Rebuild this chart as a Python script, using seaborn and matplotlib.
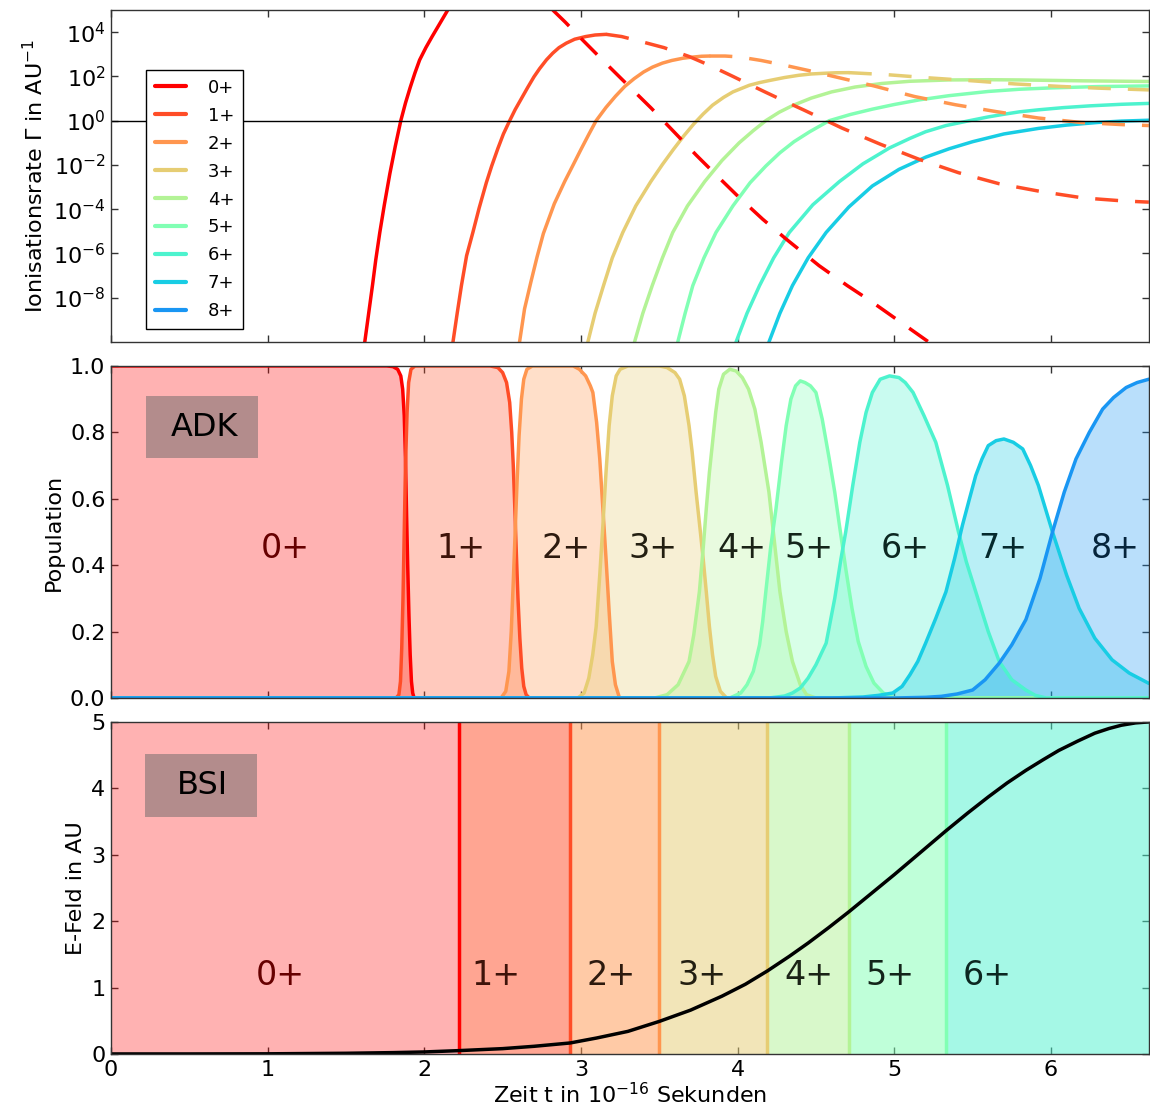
import numpy as np
import matplotlib
matplotlib.use("Agg")
import matplotlib.pyplot as plt
from matplotlib.lines import Line2D
from matplotlib.patches import Rectangle
from matplotlib.ticker import NullLocator
import seaborn as sns

# charge states
ions = ["0+", "1+", "2+", "3+", "4+", "5+", "6+", "7+", "8+"]

# --- top panel: ionisation rates (time, log10 of rate) ---
rate_t_0 = [1.62, 1.645, 1.67, 1.69, 1.716, 1.745, 1.78, 1.815, 1.85, 1.88, 1.91, 1.94, 1.97, 2.01, 2.05, 2.10, 2.15]
rate_log_0 = [-10, -8.7, -7.4, -6.3, -5.05, -3.8, -2.4, -1.15, 0.0, 0.8, 1.5, 2.15, 2.74, 3.3, 3.8, 4.4, 5.0]
rate_t_1 = [2.183, 2.21, 2.237, 2.27, 2.31, 2.35, 2.396, 2.43, 2.47, 2.505, 2.545, 2.58, 2.62, 2.66, 2.70,
            2.736, 2.78, 2.82, 2.86, 2.906, 2.96, 3.03, 3.09, 3.161]
rate_log_1 = [-10, -8.7, -7.45, -6.1, -5.05, -3.95, -2.8, -2.05, -1.25, -0.6, 0.0, 0.5, 1.0, 1.5, 1.98,
              2.35, 2.75, 3.05, 3.3, 3.5, 3.68, 3.8, 3.87, 3.9]
rate_t_2 = [2.608, 2.64, 2.68, 2.72, 2.76, 2.83, 2.896, 2.95, 3.0, 3.05, 3.097, 3.16, 3.22, 3.28, 3.34, 3.40,
            3.457, 3.52, 3.58, 3.65, 3.71, 3.77, 3.82]
rate_log_2 = [-10, -8.5, -7.3, -6.15, -5.1, -3.75, -2.75, -2.0, -1.3, -0.62, 0.0, 0.6, 1.1, 1.55, 1.9, 2.2,
              2.42, 2.6, 2.72, 2.82, 2.87, 2.91, 2.92]
rate_t_3 = [3.044, 3.09, 3.144, 3.2, 3.267, 3.35, 3.446, 3.52, 3.59, 3.655, 3.72, 3.78, 3.84, 3.91, 3.97,
            4.075, 4.14, 4.2, 4.3, 4.39, 4.47, 4.55, 4.63, 4.71]
rate_log_3 = [-10, -8.7, -7.45, -6.2, -5.05, -3.85, -2.75, -1.98, -1.3, -0.7, -0.15, 0.3, 0.7, 1.05, 1.3,
              1.6, 1.72, 1.81, 1.95, 2.05, 2.11, 2.14, 2.165, 2.17]
rate_t_4 = [3.342, 3.395, 3.455, 3.52, 3.586, 3.68, 3.79, 3.9, 4.01, 4.1, 4.18, 4.265, 4.35, 4.47, 4.6,
            4.75, 4.92, 5.1, 5.35, 5.6, 5.8, 6.2, 6.625]
rate_log_4 = [-10, -8.7, -7.45, -6.2, -5.05, -3.85, -2.75, -1.8, -1.0, -0.45, 0.0, 0.38, 0.68, 1.02, 1.3,
              1.52, 1.68, 1.78, 1.84, 1.85, 1.84, 1.8, 1.77]
rate_t_5 = [3.618, 3.665, 3.714, 3.785, 3.862, 3.97, 4.08, 4.18, 4.27, 4.36, 4.46, 4.585, 4.72, 4.86, 5.0,
            5.16, 5.35, 5.6, 5.8, 6.0, 6.3, 6.625]
rate_log_5 = [-10, -8.7, -7.45, -6.2, -5.05, -3.85, -2.8, -2.05, -1.45, -0.95, -0.5, 0.0, 0.28, 0.52, 0.73,
              0.94, 1.13, 1.32, 1.42, 1.48, 1.54, 1.57]
rate_t_6 = [3.99, 4.06, 4.14, 4.23, 4.33, 4.48, 4.65, 4.8, 4.97, 5.1, 5.2, 5.33, 5.48, 5.6, 5.7, 5.8, 5.92,
            6.08, 6.25, 6.45, 6.625]
rate_log_6 = [-10, -8.7, -7.45, -6.2, -5.05, -3.8, -2.75, -1.95, -1.23, -0.8, -0.5, -0.22, 0.0, 0.17, 0.29,
              0.4, 0.49, 0.59, 0.67, 0.74, 0.78]
rate_t_7 = [4.2, 4.27, 4.35, 4.45, 4.565, 4.71, 4.86, 5.03, 5.2, 5.35, 5.5, 5.7, 5.92, 6.1, 6.3, 6.45, 6.625]
rate_log_7 = [-10, -8.7, -7.45, -6.2, -5.05, -3.9, -2.95, -2.2, -1.65, -1.27, -0.95, -0.6, -0.35, -0.2,
              -0.08, -0.02, 0.02]

# dashed continuations
dash_t_0 = [2.82, 2.9, 3.0, 3.15, 3.31, 3.448, 3.6, 3.735, 3.87, 4.01, 4.16, 4.31, 4.52, 4.7, 4.85, 5.03, 5.22]
dash_log_0 = [5.0, 4.45, 3.72, 2.65, 1.53, 0.57, -0.55, -1.55, -2.5, -3.47, -4.45, -5.35, -6.55, -7.45,
              -8.15, -9.05, -10]
dash_t_1 = [3.161, 3.26, 3.37, 3.53, 3.69, 3.83, 3.97, 4.08, 4.18, 4.3, 4.42, 4.665, 4.91, 5.16, 5.41,
            5.67, 5.935, 6.205, 6.47, 6.625]
dash_log_1 = [3.9, 3.8, 3.6, 3.3, 2.9, 2.47, 2.0, 1.62, 1.28, 0.88, 0.49, -0.33, -1.06, -1.75, -2.35,
              -2.85, -3.2, -3.49, -3.63, -3.68]
dash_t_2 = [3.82, 3.92, 4.01, 4.15, 4.29, 4.45, 4.6, 4.87, 5.13, 5.39, 5.65, 5.92, 6.19, 6.46, 6.625]
dash_log_2 = [2.92, 2.92, 2.88, 2.72, 2.52, 2.27, 2.02, 1.57, 1.09, 0.72, 0.41, 0.12, -0.08, -0.18, -0.22]
dash_t_3 = [4.71, 4.95, 5.23, 5.5, 5.77, 6.05, 6.3, 6.625]
dash_log_3 = [2.17, 2.08, 1.93, 1.8, 1.66, 1.55, 1.47, 1.39]

# --- middle panel: ADK populations ---
pop_t_0 = [0, 1.76, 1.80, 1.83, 1.85, 1.862, 1.872, 1.88, 1.887, 1.894, 1.902, 1.91, 1.918, 1.926, 1.935, 6.625]
pop_v_0 = [1, 1, 0.998, 0.99, 0.97, 0.93, 0.85, 0.72, 0.55, 0.4, 0.25, 0.13, 0.05, 0.015, 0, 0]
pop_t_1 = [0, 1.82, 1.838, 1.848, 1.856, 1.864, 1.872, 1.88, 1.89, 1.90, 1.915, 1.94, 2.42, 2.47, 2.50,
           2.525, 2.545, 2.558, 2.568, 2.578, 2.588, 2.598, 2.61, 2.622, 2.635, 2.65, 2.67, 6.625]
pop_v_1 = [0, 0, 0.01, 0.05, 0.15, 0.3, 0.5, 0.7, 0.86, 0.95, 0.99, 1.0, 1.0, 0.995, 0.98,
           0.95, 0.89, 0.8, 0.7, 0.57, 0.43, 0.3, 0.18, 0.09, 0.035, 0.01, 0, 0]
pop_t_2 = [0, 2.49, 2.52, 2.54, 2.555, 2.568, 2.58, 2.592, 2.605, 2.62, 2.635, 2.655, 2.69, 2.95, 2.99,
           3.03, 3.06, 3.076, 3.10, 3.12, 3.14, 3.16, 3.18, 3.20, 3.22, 3.246, 6.625]
pop_v_2 = [0, 0, 0.02, 0.08, 0.2, 0.35, 0.5, 0.65, 0.79, 0.9, 0.96, 0.99, 1.0, 1.0, 0.99,
           0.97, 0.94, 0.92, 0.83, 0.72, 0.57, 0.42, 0.26, 0.11, 0.04, 0, 0]
pop_t_3 = [0, 2.98, 3.02, 3.05, 3.075, 3.097, 3.12, 3.14, 3.16, 3.18, 3.20, 3.225, 3.25, 3.30, 3.50, 3.55,
           3.60, 3.63, 3.66, 3.69, 3.71, 3.735, 3.76, 3.78, 3.80, 3.82, 3.84, 3.86, 3.89, 3.93, 6.625]
pop_v_3 = [0, 0, 0.015, 0.06, 0.13, 0.215, 0.37, 0.52, 0.68, 0.82, 0.91, 0.97, 0.99, 1.0, 1.0, 0.995,
           0.98, 0.96, 0.91, 0.82, 0.74, 0.62, 0.51, 0.42, 0.32, 0.215, 0.13, 0.065, 0.02, 0, 0]
pop_t_4 = [0, 3.47, 3.55, 3.62, 3.69, 3.72, 3.756, 3.78, 3.80, 3.82, 3.84, 3.86, 3.88, 3.91, 3.95, 3.99,
           4.03, 4.07, 4.11, 4.15, 4.18, 4.2, 4.235, 4.27, 4.31, 4.35, 4.40, 4.44, 4.5, 6.625]
pop_v_4 = [0, 0, 0.01, 0.04, 0.11, 0.19, 0.32, 0.45, 0.57, 0.68, 0.77, 0.86, 0.93, 0.975, 0.99, 0.985,
           0.965, 0.93, 0.87, 0.77, 0.68, 0.62, 0.47, 0.32, 0.2, 0.11, 0.04, 0.01, 0, 0]
pop_t_5 = [0, 3.95, 4.02, 4.06, 4.10, 4.14, 4.16, 4.18, 4.21, 4.245, 4.28, 4.31, 4.34, 4.37, 4.40, 4.43,
           4.465, 4.5, 4.54, 4.585, 4.62, 4.65, 4.69, 4.73, 4.77, 4.82, 4.87, 4.93, 5.0, 6.625]
pop_v_5 = [0, 0, 0.015, 0.04, 0.08, 0.16, 0.23, 0.32, 0.45, 0.57, 0.71, 0.82, 0.9, 0.94, 0.955, 0.95,
           0.94, 0.92, 0.84, 0.72, 0.62, 0.52, 0.39, 0.27, 0.17, 0.095, 0.045, 0.015, 0, 0]
pop_t_6 = [0, 4.2, 4.3, 4.35, 4.40, 4.45, 4.5, 4.565, 4.62, 4.66, 4.69, 4.735, 4.78, 4.82, 4.86, 4.91,
           4.97, 5.03, 5.07, 5.12, 5.19, 5.265, 5.34, 5.41, 5.46, 5.52, 5.6, 5.67, 5.75, 5.84, 5.9, 5.97, 6.625]
pop_v_6 = [0, 0, 0.006, 0.015, 0.03, 0.06, 0.1, 0.165, 0.3, 0.42, 0.5, 0.64, 0.77, 0.86, 0.92, 0.96,
           0.97, 0.965, 0.95, 0.92, 0.85, 0.77, 0.64, 0.5, 0.41, 0.32, 0.2, 0.11, 0.055, 0.024, 0.008, 0, 0]
pop_t_7 = [0, 4.6, 4.8, 4.9, 4.99, 5.05, 5.1, 5.15, 5.2, 5.265, 5.33, 5.385, 5.435, 5.48, 5.52, 5.56, 5.6,
           5.65, 5.70, 5.76, 5.82, 5.87, 5.92, 5.965, 6.01, 6.1, 6.18, 6.28, 6.39, 6.5, 6.625]
pop_v_7 = [0, 0, 0.003, 0.008, 0.015, 0.035, 0.07, 0.11, 0.165, 0.24, 0.32, 0.42, 0.52, 0.6, 0.67, 0.72, 0.76,
           0.775, 0.78, 0.77, 0.75, 0.7, 0.64, 0.57, 0.5, 0.37, 0.27, 0.18, 0.115, 0.075, 0.044]
pop_t_8 = [0, 5.0, 5.2, 5.3, 5.4, 5.5, 5.58, 5.67, 5.75, 5.84, 5.93, 6.01, 6.085, 6.16, 6.245, 6.33, 6.4,
           6.48, 6.55, 6.625]
pop_v_8 = [0, 0, 0.002, 0.005, 0.012, 0.024, 0.055, 0.105, 0.16, 0.236, 0.36, 0.5, 0.62, 0.72, 0.8, 0.87,
           0.905, 0.935, 0.95, 0.96]

adk_label_t = [1.11, 2.237, 2.906, 3.463, 4.03, 4.458, 5.068, 5.69, 6.41]
adk_label_y = 0.45

# --- bottom panel: field envelope and BSI thresholds ---
efield_t = [0, 0.5, 1.0, 1.5, 1.8, 2.0, 2.22, 2.5, 2.7, 2.93, 3.1, 3.3, 3.5, 3.7, 3.9, 4.05, 4.19, 4.33,
            4.45, 4.58, 4.71, 4.85, 5.0, 5.165, 5.33, 5.47, 5.6, 5.72, 5.84, 5.95, 6.05, 6.17, 6.28, 6.37,
            6.45, 6.54, 6.625]
efield_v = [0, 0.0, 0.002, 0.01, 0.02, 0.03, 0.05, 0.08, 0.115, 0.165, 0.24, 0.34, 0.49, 0.66, 0.87, 1.05,
            1.25, 1.47, 1.67, 1.9, 2.14, 2.41, 2.7, 3.03, 3.36, 3.63, 3.87, 4.08, 4.27, 4.43, 4.57, 4.71,
            4.83, 4.9, 4.95, 4.985, 5.0]
bsi_edges = [0, 2.223, 2.928, 3.50, 4.186, 4.71, 5.33, 6.625]
bsi_label_t = [1.08, 2.46, 3.19, 3.77, 4.457, 4.97, 5.59]
bsi_label_y = 1.18

rate_t = [rate_t_0, rate_t_1, rate_t_2, rate_t_3, rate_t_4, rate_t_5, rate_t_6, rate_t_7]
rate_log = [rate_log_0, rate_log_1, rate_log_2, rate_log_3, rate_log_4, rate_log_5, rate_log_6, rate_log_7]
dash_t = [dash_t_0, dash_t_1, dash_t_2, dash_t_3]
dash_log = [dash_log_0, dash_log_1, dash_log_2, dash_log_3]
pop_t = [pop_t_0, pop_t_1, pop_t_2, pop_t_3, pop_t_4, pop_t_5, pop_t_6, pop_t_7, pop_t_8]
pop_v = [pop_v_0, pop_v_1, pop_v_2, pop_v_3, pop_v_4, pop_v_5, pop_v_6, pop_v_7, pop_v_8]

sns.set_theme(style="ticks", rc={
    "xtick.direction": "in", "ytick.direction": "in",
    "xtick.top": True, "ytick.right": True,
    "xtick.major.size": 5, "ytick.major.size": 5,
    "axes.edgecolor": "black", "axes.linewidth": 1.0,
    "text.color": "black", "axes.labelcolor": "black",
    "xtick.color": "black", "ytick.color": "black",
})
plt.rcParams['font.family'] = ['DejaVu Sans']

colors = plt.cm.rainbow(np.linspace(1.0, 0.2, 9))
# dark label colours: same hue, scaled to a fixed low luminance
text_colors = []
for c in colors:
    lum = 0.299 * c[0] + 0.587 * c[1] + 0.114 * c[2]
    text_colors.append(np.clip(c[:3] * 0.12 / lum, 0, 1))
xmax = 6.625

fig, (ax1, ax2, ax3) = plt.subplots(3, 1, figsize=(11.5, 11.1), dpi=100, sharex=True)
fig.subplots_adjust(left=0.0965, right=0.999, top=0.991, bottom=0.0505, hspace=0.072)

# Top: ionisation rates
for q in range(8):
    sns.lineplot(x=rate_t[q], y=10.0 ** np.array(rate_log[q]), ax=ax1, color=colors[q],
                 lw=2.5, estimator=None, sort=False, legend=False)
for q in range(4):
    sns.lineplot(x=dash_t[q], y=10.0 ** np.array(dash_log[q]), ax=ax1, color=colors[q],
                 lw=2.5, estimator=None, sort=False, legend=False, linestyle=(0, (6.6, 4.9)))
ax1.axhline(1, color="black", lw=1)
ax1.set_yscale("log")
ax1.set_ylim(1e-10, 1e5)
ax1.set_yticks([1e-8, 1e-6, 1e-4, 1e-2, 1e0, 1e2, 1e4])
ax1.yaxis.set_minor_locator(NullLocator())
ax1.set_ylabel("Ionisationsrate Γ in AU$^{-1}$", fontsize=16)
handles = [Line2D([0], [0], color=colors[q], lw=3) for q in range(9)]
leg = ax1.legend(handles, ions, loc="upper left", bbox_to_anchor=(0.034, 0.82), fontsize=13,
                 frameon=True, fancybox=False, edgecolor="black", framealpha=1,
                 handlelength=1.7, handletextpad=1.2, labelspacing=0.55,
                 borderpad=0.5, borderaxespad=0)
leg.get_frame().set_linewidth(1)

# Middle: ADK populations
for q in range(9):
    ax2.fill_between(pop_t[q], 0, pop_v[q], color=colors[q], alpha=0.3, lw=0)
    sns.lineplot(x=pop_t[q], y=pop_v[q], ax=ax2, color=colors[q], lw=2.5,
                 estimator=None, sort=False, legend=False)
    ax2.text(adk_label_t[q], adk_label_y, ions[q], color=text_colors[q], fontsize=24,
             ha="center", va="center")
ax2.set_ylim(0, 1)
ax2.set_yticks([0, 0.2, 0.4, 0.6, 0.8, 1.0])
ax2.set_yticklabels(["0.0", "0.2", "0.4", "0.6", "0.8", "1.0"])
ax2.set_ylabel("Population", fontsize=16)
ax2.add_patch(Rectangle((0.034, 0.722), 0.108, 0.187, transform=ax2.transAxes,
                        facecolor="#b38c8c", edgecolor="none", zorder=5))
ax2.text(0.09, 0.816, "ADK", transform=ax2.transAxes, fontsize=23, ha="center", va="center", zorder=6)

# Bottom: BSI regions and field
for q in range(len(bsi_edges) - 1):
    ax3.axvspan(bsi_edges[q], bsi_edges[q + 1], color=colors[q], alpha=0.3 if q == 0 else 0.5, lw=0)
    ax3.text(bsi_label_t[q], bsi_label_y, ions[q], color=text_colors[q], fontsize=24,
             ha="center", va="center")
for q in range(len(bsi_edges) - 2):
    ax3.axvline(bsi_edges[q + 1], color=colors[q], lw=2.5)
sns.lineplot(x=efield_t, y=efield_v, ax=ax3, color="black", lw=2.5, estimator=None,
             sort=False, legend=False)
ax3.set_ylim(0, 5)
ax3.set_yticks([0, 1, 2, 3, 4, 5])
ax3.set_ylabel("E-Feld in AU", fontsize=16)
ax3.add_patch(Rectangle((0.033, 0.714), 0.108, 0.19, transform=ax3.transAxes,
                        facecolor="#b38c8c", edgecolor="none", zorder=5))
ax3.text(0.088, 0.809, "BSI", transform=ax3.transAxes, fontsize=23, ha="center", va="center", zorder=6)

ax3.set_xlim(0, xmax)
ax3.set_xticks([0, 1, 2, 3, 4, 5, 6])
ax3.set_xlabel("Zeit t in $10^{-16}$ Sekunden", fontsize=16, labelpad=2)

for ax in (ax1, ax2, ax3):
    ax.tick_params(labelsize=16, pad=4, width=1, color="#333333")
    for s in ax.spines.values():
        s.set_color("#333333")
ax1.tick_params(labelbottom=False)
ax2.tick_params(labelbottom=False)

fig.savefig("out.png", dpi=100)
